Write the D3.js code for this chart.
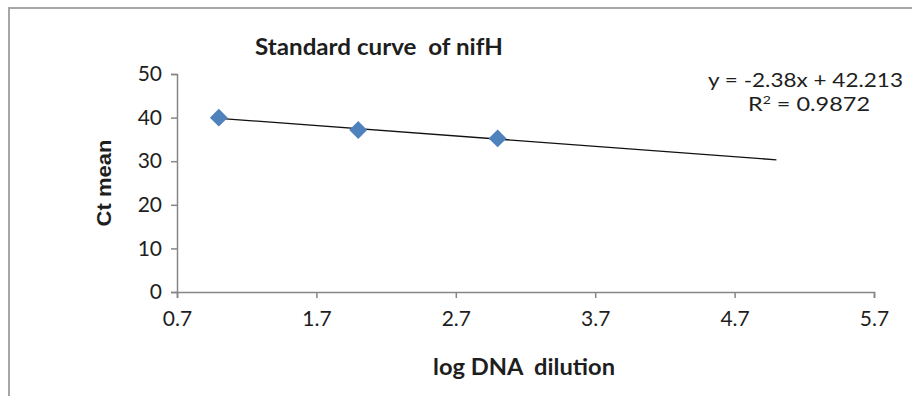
<!DOCTYPE html>
<html>
<head>
<meta charset="utf-8">
<script src="https://cdn.jsdelivr.net/npm/d3@7"></script>
<style>
  body { margin: 0; background: #fff; }
  text { fill: #1e1e1e; white-space: pre; }
</style>
</head>
<body>
<div id="chart"></div>
<script>
// data
var logDilution = [1, 2, 3];
var ctMean = [39.99, 37.14, 35.23];
var xTicks = [0.7, 1.7, 2.7, 3.7, 4.7, 5.7];
var yTicks = [0, 10, 20, 30, 40, 50];
var slope = -2.38, intercept = 42.213, rSquared = 0.9872;
var trendRange = [1, 5];

var width = 912, height = 396;
var font = "Lato, 'Open Sans', sans-serif";

var svg = d3.select("#chart").append("svg")
    .attr("width", width)
    .attr("height", height);

// chart frame
svg.append("path")
    .attr("d", "M9,396 V8 H912")
    .attr("fill", "none")
    .attr("stroke", "#a6a6a6")
    .attr("stroke-width", 2);

var x = d3.scaleLinear().domain([0.7, 5.7]).range([177, 874]);
var y = d3.scaleLinear().domain([0, 50]).range([292, 74]);

var xAxis = svg.append("g")
    .attr("transform", "translate(0," + y(0) + ")")
    .call(d3.axisBottom(x).tickValues(xTicks).tickFormat(d3.format(".1f")).tickSizeOuter(0).tickSize(6).tickPadding(13));

var yAxis = svg.append("g")
    .attr("transform", "translate(" + x(0.7) + ",0)")
    .call(d3.axisLeft(y).tickValues(yTicks).tickSizeOuter(0).tickSize(6).tickPadding(9));

[xAxis, yAxis].forEach(function(g) {
  g.select(".domain").attr("stroke", "#868686").attr("stroke-width", 1.5);
  g.selectAll(".tick line").attr("stroke", "#868686").attr("stroke-width", 1.5);
  g.selectAll(".tick text")
      .style("font-family", font)
      .style("font-size", "21px")
      .attr("fill", "#1e1e1e");
});

// trendline
svg.append("line")
    .attr("x1", x(trendRange[0]))
    .attr("y1", y(slope * trendRange[0] + intercept))
    .attr("x2", x(trendRange[1]))
    .attr("y2", y(slope * trendRange[1] + intercept))
    .attr("stroke", "#111")
    .attr("stroke-width", 1.3);

// points
var marker = d3.symbol().type(d3.symbolSquare).size(160);
svg.selectAll(".pt")
    .data(logDilution)
    .enter().append("path")
    .attr("class", "pt")
    .attr("d", marker)
    .attr("transform", function(d, i) { return "translate(" + x(d) + "," + y(ctMean[i]) + ") rotate(45)"; })
    .attr("fill", "#4f81bd");

// titles
svg.append("text")
    .attr("x", 255).attr("y", 55)
    .attr("textLength", 248)
    .attr("lengthAdjust", "spacingAndGlyphs")
    .style("font-family", font)
    .style("font-weight", "bold")
    .style("font-size", "22px")
    .text("Standard curve  of nifH");

svg.append("text")
    .attr("transform", "translate(111,183) rotate(-90)")
    .attr("text-anchor", "middle")
    .attr("textLength", 87)
    .attr("lengthAdjust", "spacingAndGlyphs")
    .style("font-family", "'Liberation Sans', Arial, sans-serif")
    .style("font-weight", "bold")
    .style("font-size", "21px")
    .text("Ct mean");

svg.append("text")
    .attr("x", 433).attr("y", 375)
    .attr("textLength", 182)
    .attr("lengthAdjust", "spacingAndGlyphs")
    .style("font-family", font)
    .style("font-weight", "bold")
    .style("font-size", "22px")
    .text("log DNA  dilution");

// trendline label
svg.append("text")
    .attr("x", 708).attr("y", 87)
    .attr("textLength", 195)
    .attr("lengthAdjust", "spacingAndGlyphs")
    .style("font-family", font)
    .style("font-size", "19px")
    .text("y = " + slope + "x + " + intercept);

var r2 = svg.append("text")
    .attr("x", 748).attr("y", 111)
    .attr("textLength", 122)
    .attr("lengthAdjust", "spacingAndGlyphs")
    .style("font-family", font)
    .style("font-size", "20px");
r2.append("tspan").text("R");
r2.append("tspan").attr("dy", -7).style("font-size", "12px").text("2");
r2.append("tspan").attr("dy", 7).text(" = " + rSquared);
</script>
</body>
</html>
